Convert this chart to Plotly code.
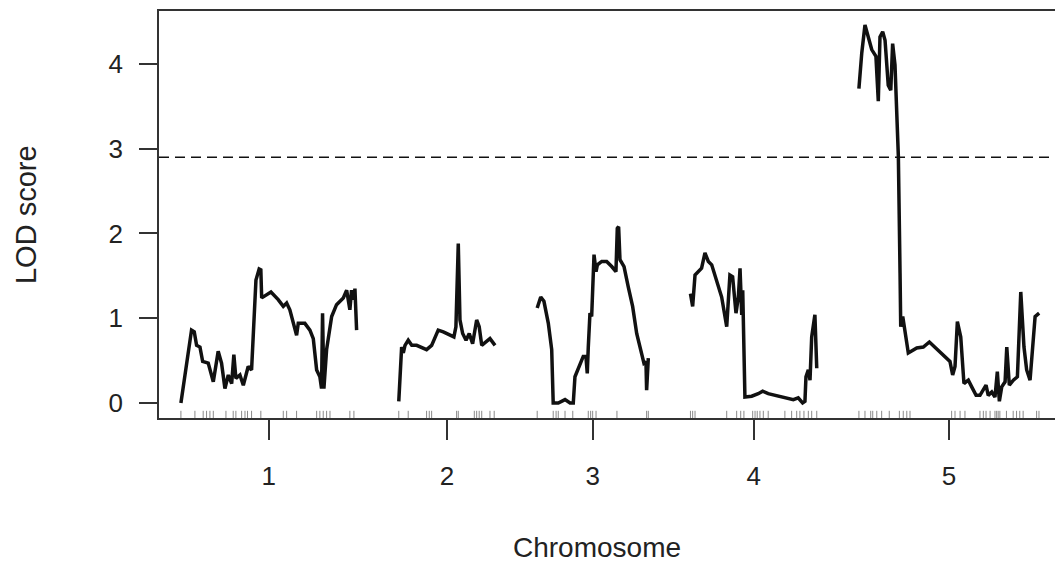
import plotly.graph_objects as go

# ---- data (positions in cM within chromosome, LOD scores) ----
chromosomes = ["1", "2", "3", "4", "5"]

chr1_pos = [0, 6.3, 7.9, 9.3, 11.3, 12.9, 16.2, 19.2, 22.1, 24.1, 26.1, 28.1, 30.1, 31.4, 32.6, 35.0, 37.0, 39.9, 41.9, 44.5,
            46.4, 47.4, 47.9, 53.4, 57.7, 60.7, 62.7, 64.6, 68.6, 69.6, 73.5, 76.5, 78.5, 80.5, 82.4, 83.4, 84.0, 84.8, 86.4, 89.4,
            92.3, 96.3, 98.3, 100.2, 101.2, 102.6, 103.2, 104.2]
chr1_lod = [0.0, 0.86, 0.84, 0.68, 0.66, 0.49, 0.47, 0.25, 0.61, 0.47, 0.17, 0.33, 0.23, 0.57, 0.29, 0.33, 0.21, 0.43, 0.39, 1.45,
            1.58, 1.57, 1.24, 1.31, 1.22, 1.14, 1.18, 1.10, 0.80, 0.94, 0.94, 0.86, 0.76, 0.39, 0.31, 0.17, 1.06, 0.17, 0.63, 1.02,
            1.16, 1.24, 1.33, 1.10, 1.33, 1.22, 1.35, 0.86]

chr2_pos = [0, 1.7, 2.7, 3.7, 5.6, 7.7, 10.6, 13.6, 16.5, 19.5, 23.4, 26.4, 30.4, 32.7, 33.9, 35.3, 36.3, 37.9, 39.9, 41.8,
            43.8, 46.2, 47.7, 49.2, 51.7, 54.1, 57.1]
chr2_lod = [0.02, 0.66, 0.59, 0.68, 0.74, 0.68, 0.68, 0.66, 0.63, 0.68, 0.86, 0.84, 0.80, 0.78, 0.90, 1.88, 0.98, 0.82, 0.74, 0.82,
            0.70, 0.98, 0.90, 0.68, 0.72, 0.76, 0.68]

chr3_pos = [0, 2.1, 4.0, 6.6, 8.6, 9.5, 12.5, 16.5, 19.5, 21.4, 22.4, 25.4, 27.3, 28.9, 29.7, 30.3, 31.3, 32.3, 33.7, 34.9,
            35.7, 38.3, 41.2, 44.2, 46.7, 47.5, 48.3, 49.1, 51.5, 54.0, 56.6, 59.0, 61.4, 63.3, 64.5, 64.9, 65.9]
chr3_lod = [1.12, 1.25, 1.20, 0.94, 0.63, 0.0, 0.0, 0.04, 0.0, 0.0, 0.31, 0.47, 0.55, 0.55, 0.35, 0.66, 1.06, 1.02, 1.75, 1.55,
            1.63, 1.67, 1.67, 1.61, 1.55, 2.06, 2.08, 1.69, 1.61, 1.37, 1.14, 0.82, 0.63, 0.47, 0.49, 0.15, 0.53]

chr4_pos = [0, 1.3, 2.7, 4.6, 6.6, 8.6, 10.6, 12.6, 15.5, 18.5, 21.5, 23.4, 25.0, 27.0, 28.4, 29.4, 30.4, 31.0, 32.3, 36.3,
            40.2, 42.8, 46.1, 51.1, 57.1, 61.0, 63.9, 66.5, 67.9, 68.5, 69.9, 70.9, 71.9, 73.8, 74.9]
chr4_lod = [1.29, 1.14, 1.51, 1.55, 1.59, 1.77, 1.67, 1.63, 1.45, 1.25, 0.90, 1.51, 1.49, 1.06, 1.25, 1.59, 1.04, 1.33, 0.07, 0.08,
            0.11, 0.14, 0.11, 0.09, 0.06, 0.04, 0.06, 0.0, 0.02, 0.31, 0.39, 0.27, 0.78, 1.04, 0.41]

chr5_pos = [0, 1.7, 3.6, 5.6, 7.6, 10.1, 11.5, 12.5, 14.1, 15.5, 17.4, 18.9, 20.0, 21.4, 23.4, 24.4, 24.8, 26.0, 27.3, 29.3,
            34.3, 38.2, 41.8, 45.1, 49.1, 52.1, 54.0, 55.6, 57.0, 58.4, 60.4, 62.3, 64.9, 66.9, 69.5, 71.8, 73.8, 75.4, 76.7, 78.8,
            80.7, 82.1, 83.3, 84.7, 86.7, 87.7, 89.2, 91.6, 94.0, 96.0, 97.9, 99.5, 101.5, 103.1, 104.5, 106.9]
chr5_lod = [3.71, 4.13, 4.46, 4.32, 4.17, 4.09, 3.56, 4.32, 4.38, 4.28, 3.75, 3.69, 4.24, 3.99, 2.91, 1.53, 0.90, 1.02, 0.86, 0.59,
            0.65, 0.66, 0.72, 0.66, 0.59, 0.53, 0.49, 0.33, 0.43, 0.96, 0.78, 0.23, 0.27, 0.19, 0.09, 0.09, 0.15, 0.21, 0.09, 0.13,
            0.07, 0.37, 0.02, 0.19, 0.25, 0.66, 0.21, 0.27, 0.31, 1.31, 0.66, 0.39, 0.27, 0.66, 1.02, 1.06]

# marker positions (rug)
chr1_markers = [0, 8.3, 13.2, 15.2, 17.2, 19.2, 26.7, 31.0, 32.6, 36.0, 38.0, 39.5, 41.9, 47.4, 60.7, 62.7, 68.6, 80.5, 82.4,
                84.4, 86.4, 88.4, 100.2, 102.6]
chr2_markers = [0, 5.6, 16.5, 18.1, 19.5, 34.3, 35.3, 44.8, 46.2, 47.7, 49.2, 54.1, 56.6]
chr3_markers = [0, 9.5, 11.2, 12.5, 16.5, 21.1, 30.3, 31.7, 32.9, 34.9, 47.3, 64.9, 65.9]
chr4_markers = [0, 1.3, 2.7, 21.5, 27.4, 29.8, 31.7, 36.9, 38.3, 39.6, 41.2, 43.2, 46.1, 56.0, 60.0, 63.0, 64.9, 67.3, 69.9,
                71.9, 74.9]
chr5_markers = [0, 3.6, 7.0, 8.2, 10.6, 13.5, 18.0, 24.0, 26.3, 28.4, 30.3, 55.0, 57.0, 60.0, 62.9, 71.8, 73.8, 75.4, 77.8,
                80.7, 81.7, 82.6, 83.6, 87.5, 91.5, 93.5, 95.4, 97.4, 105.4, 106.8]

threshold = 2.90
gap = 25.0

positions = [chr1_pos, chr2_pos, chr3_pos, chr4_pos, chr5_pos]
lods = [chr1_lod, chr2_lod, chr3_lod, chr4_lod, chr5_lod]
markers = [chr1_markers, chr2_markers, chr3_markers, chr4_markers, chr5_markers]

# cumulative offsets
offsets = []
cur = 0.0
for p in positions:
    offsets.append(cur)
    cur += max(p) + gap
mids = [o + max(p) / 2 for o, p in zip(offsets, positions)]

Y_MIN, Y_MAX = -0.177, 4.625
X_MIN, X_MAX = -13.0, 518.4
FONT = "Liberation Sans, Arial, Helvetica, sans-serif"
INK = "#111111"

fig = go.Figure()

# rug of markers
rx, ry = [], []
for o, m in zip(offsets, markers):
    for v in m:
        rx += [o + v, o + v, None]
        ry += [Y_MIN, Y_MIN + 0.085, None]
fig.add_trace(go.Scatter(x=rx, y=ry, mode="lines", line=dict(color="#8a8a8a", width=1),
                         hoverinfo="skip", showlegend=False))

# LOD curves
for name, o, p, l in zip(chromosomes, offsets, positions, lods):
    fig.add_trace(go.Scatter(x=[o + v for v in p], y=l, mode="lines", name="Chr " + name,
                             line=dict(color=INK, width=3.5), showlegend=False))

# threshold
fig.add_shape(type="line", xref="paper", yref="y", x0=0, x1=1, y0=threshold, y1=threshold,
              line=dict(color=INK, width=1.5, dash="10px,6px"))

fig.update_layout(
    width=1055, height=569,
    margin=dict(l=159, r=0, t=11, b=151),
    paper_bgcolor="white", plot_bgcolor="white",
    font=dict(family=FONT, color="#222"),
    xaxis=dict(range=[X_MIN, X_MAX], tickvals=mids, ticktext=chromosomes, ticks="outside", ticklen=20,
               tickwidth=1.5, tickcolor="#333", showline=True, linecolor="#333", linewidth=1.5, mirror=True,
               showgrid=False, zeroline=False, tickfont=dict(size=26, color="#222"), ticklabelstandoff=14),
    yaxis=dict(range=[Y_MIN, Y_MAX], tickvals=[0, 1, 2, 3, 4], ticks="outside", ticklen=18, tickwidth=1.5,
               tickcolor="#333", showline=True, linecolor="#333", linewidth=1.5, mirror=False,
               showgrid=False, zeroline=False, tickfont=dict(size=26, color="#222"), ticklabelstandoff=11),
    annotations=[
        dict(text="LOD score", xref="paper", yref="paper", x=-0.1484, y=0.4988, textangle=-90,
             showarrow=False, xanchor="center", yanchor="middle", font=dict(size=29, color="#222")),
        dict(text="Chromosome", xref="paper", yref="paper", x=0.4888, y=-0.3194,
             showarrow=False, xanchor="center", yanchor="middle", font=dict(size=28, color="#222")),
    ],
)

fig.write_html("out.html")
